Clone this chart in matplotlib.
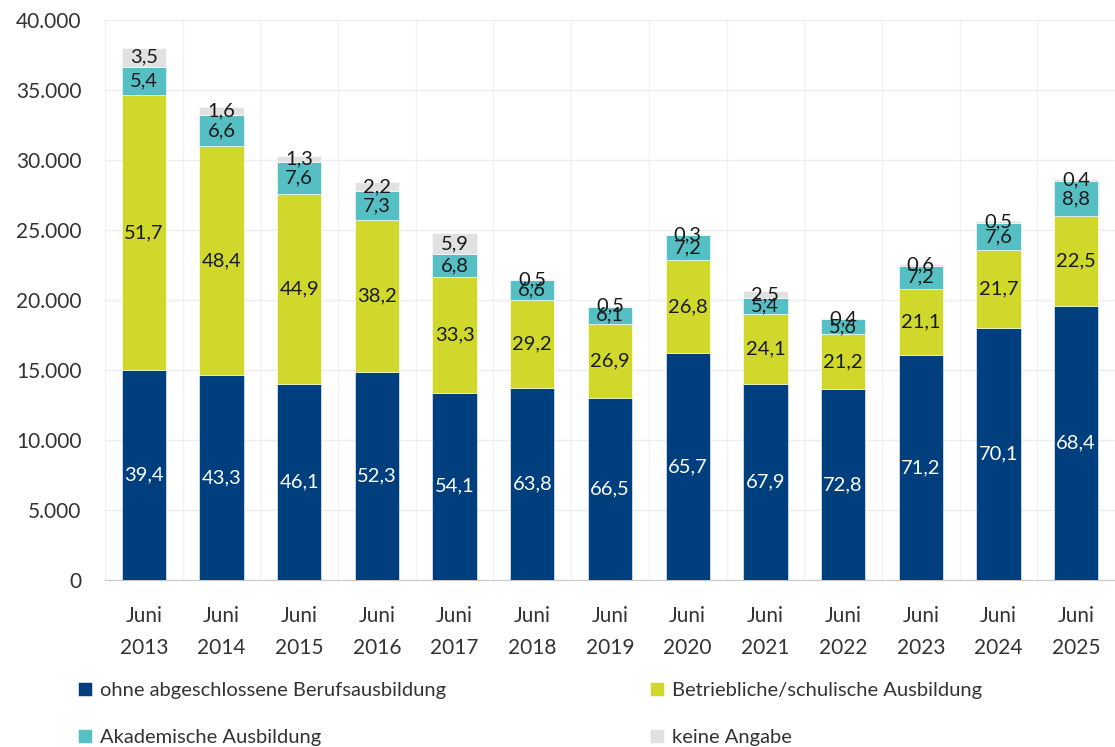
import matplotlib
matplotlib.use("Agg")
import matplotlib.pyplot as plt
import numpy as np
from matplotlib.ticker import FuncFormatter

plt.rcParams['font.family'] = ['Lato', 'DejaVu Sans']

years = ["2013", "2014", "2015", "2016", "2017", "2018", "2019",
         "2020", "2021", "2022", "2023", "2024", "2025"]
tick_labels = ["Juni\n" + y for y in years]

# Total persons
totals = [38000, 33800, 30300, 28400, 24750, 21500, 19600,
          24700, 20650, 18700, 22550, 25650, 28580]

# Shares in percent (bar labels)
pct_ohne = [39.4, 43.3, 46.1, 52.3, 54.1, 63.8, 66.5, 65.7, 67.9, 72.8, 71.2, 70.1, 68.4]
pct_betr = [51.7, 48.4, 44.9, 38.2, 33.3, 29.2, 26.9, 26.8, 24.1, 21.2, 21.1, 21.7, 22.5]
pct_akad = [5.4, 6.6, 7.6, 7.3, 6.8, 6.6, 6.1, 7.2, 5.4, 5.6, 7.2, 7.6, 8.8]
pct_keine = [3.5, 1.6, 1.3, 2.2, 5.9, 0.5, 0.5, 0.3, 2.5, 0.4, 0.6, 0.5, 0.4]

series = [
    ("ohne abgeschlossene Berufsausbildung", pct_ohne, "#003f7d", "white"),
    ("Betriebliche/schulische Ausbildung", pct_betr, "#cfd82b", "#1a1a1a"),
    ("Akademische Ausbildung", pct_akad, "#55bfc3", "#1a1a1a"),
    ("keine Angabe", pct_keine, "#e1e1e1", "#1a1a1a"),
]

W, H = 1115, 747
fig = plt.figure(figsize=(W / 100, H / 100), dpi=100)
ax = fig.add_axes([105 / W, (H - 580) / H, (W - 105) / W, 560 / H])

x = np.arange(len(years))
tot = np.array(totals, dtype=float)
bottom = np.zeros(len(years))
handles = []
for name, pct, color, tcol in series:
    vals = tot * np.array(pct) / 100.0
    bars = ax.bar(x, vals, 0.57, bottom=bottom, color=color, label=name,
                  edgecolor="white", linewidth=0.4, zorder=3)
    ax.bar_label(bars, labels=[f"{p:.1f}".replace(".", ",") for p in pct],
                 label_type="center", color=tcol, fontsize=14.5, zorder=4)
    handles.append(bars)
    bottom += vals

ax.set_ylim(0, 40000)
ax.set_yticks(np.arange(0, 40001, 5000))
ax.yaxis.set_major_formatter(FuncFormatter(lambda v, p: f"{int(v):,}".replace(",", ".")))
ax.set_xlim(-0.48, 12.3)
ax.set_xticks(x)
ax.set_xticklabels(tick_labels, linespacing=1.7)
ax.set_xticks(np.arange(-0.5, 12.6, 1), minor=True)

for s in ["top", "right", "left"]:
    ax.spines[s].set_visible(False)
ax.spines["bottom"].set_color("#c8c8c8")
ax.tick_params(axis="both", which="both", length=0, labelsize=15, colors="#333333")
ax.tick_params(axis="y", pad=17)
ax.tick_params(axis="x", pad=19)
ax.grid(axis="y", color="#eeeeee", linewidth=1, zorder=0)
ax.grid(axis="x", which="minor", color="#f2f2f2", linewidth=1, zorder=0)
ax.grid(axis="x", which="major", visible=False)

order = [0, 2, 1, 3]
leg = fig.legend([handles[i] for i in order], [series[i][0] for i in order],
                 loc="upper left", bbox_to_anchor=(70 / W, 1 - 674 / H), ncol=2,
                 frameon=False, fontsize=14.5, handlelength=0.7, handleheight=0.7,
                 handletextpad=0.4, columnspacing=10.1, labelspacing=1.5,
                 labelcolor="#333333", borderaxespad=0)

fig.savefig("out.png", dpi=100)
